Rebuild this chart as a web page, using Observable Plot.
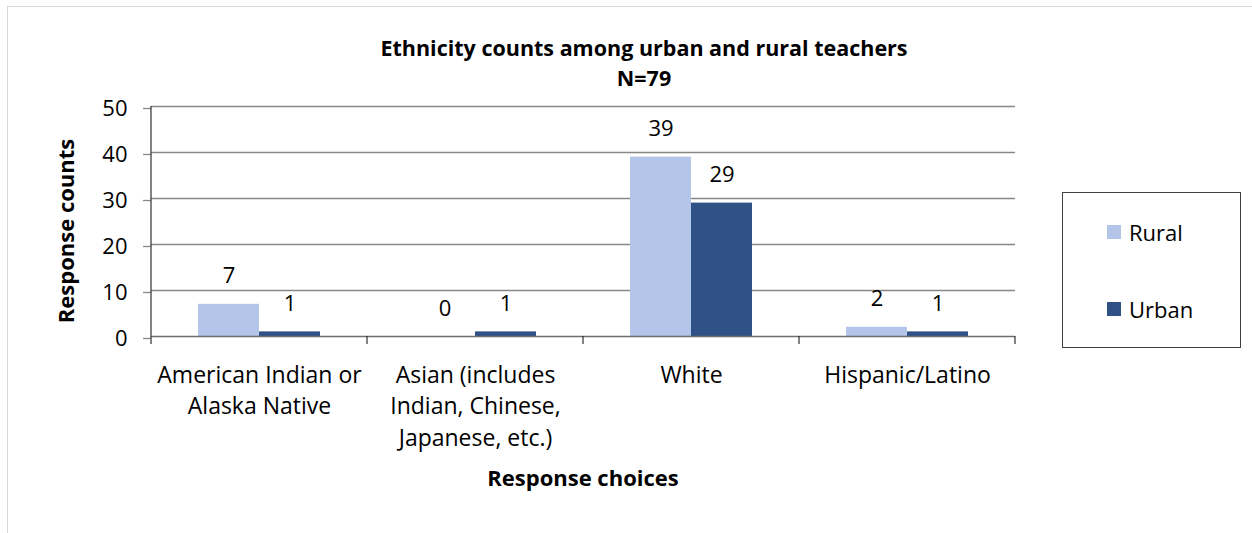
<!DOCTYPE html>
<html>
<head>
<meta charset="utf-8">
<script src="https://cdn.jsdelivr.net/npm/d3@7"></script>
<script src="https://cdn.jsdelivr.net/npm/@observablehq/plot@0.6"></script>
<style>
  html, body { margin: 0; padding: 0; background: #fff; }
  #wrap { position: relative; width: 1252px; height: 533px; overflow: hidden; font-family: "Open Sans", sans-serif; color: #000; }
  #frame { position: absolute; left: 7px; top: 6px; width: 1300px; height: 600px; border: 1px solid #d9d9d9; box-sizing: border-box; }
  #chart { position: absolute; left: 0; top: 0; }
  .title { position: absolute; left: 0; width: 1288px; text-align: center; font-weight: bold; font-size: 21.5px; line-height: 30px; white-space: nowrap; }
  #ytitle { position: absolute; left: 65px; top: 231px; transform: translate(-50%, -50%) rotate(-90deg); font-weight: bold; font-size: 22px; white-space: nowrap; }
  #xtitle { position: absolute; left: 583px; top: 477px; transform: translate(-50%, -50%); font-weight: bold; font-size: 22px; white-space: nowrap; }
  #legend { position: absolute; left: 1062px; top: 192px; width: 179px; height: 156px; border: 1px solid #404040; box-sizing: border-box; }
  .item { position: absolute; left: 44px; display: flex; align-items: center; font-size: 22px; line-height: 28px; }
  .sw { width: 14px; height: 14px; margin-right: 8px; }
</style>
</head>
<body>
<div id="wrap">
  <div id="frame"></div>
  <div id="chart"></div>
  <div class="title" style="top:33px">Ethnicity counts among urban and rural teachers</div>
  <div class="title" style="top:63px">N=79</div>
  <div id="ytitle">Response counts</div>
  <div id="xtitle">Response choices</div>
  <div id="legend"></div>
</div>
<script>
const categories = [
  "American Indian or\nAlaska Native",
  "Asian (includes\nIndian, Chinese,\nJapanese, etc.)",
  "White",
  "Hispanic/Latino"
];
const series = ["Rural", "Urban"];
const seriesColors = ["#b3c5e8", "#2f5185"];
const rural = [7, 0, 39, 2];
const urban = [1, 1, 29, 1];
const yTicks = [0, 10, 20, 30, 40, 50];

const rows = [];
categories.forEach((c, i) => {
  rows.push({category: c, series: "Rural", value: rural[i]});
  rows.push({category: c, series: "Urban", value: urban[i]});
});

const plot = Plot.plot({
  width: 1252,
  height: 533,
  marginLeft: 151,
  marginRight: 237,
  marginTop: 106,
  marginBottom: 197,
  style: {fontFamily: "'Open Sans', sans-serif", fontSize: "22px", color: "#000", background: "transparent", overflow: "visible"},
  fx: {domain: categories, padding: 0, label: null},
  x: {domain: series, paddingInner: 0, paddingOuter: 0.77, align: 0.5, axis: null},
  y: {domain: [0, 50], label: null},
  color: {domain: series, range: seriesColors},
  marks: [
    Plot.ruleY(yTicks.filter(d => d > 0), {stroke: "#878787", strokeWidth: 1.3}),
    Plot.axisY(yTicks, {tickSize: 8, tickPadding: 16, stroke: "#878787", strokeWidth: 1.3, strokeOpacity: 1, fontSize: 22, fill: "#000", dy: 2, label: null}),
    Plot.barY(rows, {fx: "category", x: "series", y: "value", fill: "series"}),
    Plot.text(rows, {fx: "category", x: "series", y: "value", text: d => String(d.value), dy: -28, fontSize: 22, fill: "#000"}),
    Plot.ruleY([0], {stroke: "#6e6e6e", strokeWidth: 1.3}),
    Plot.axisFx({anchor: "bottom", tickSize: 0, tickPadding: 24, lineHeight: 1.37, fontSize: 23, fill: "#000", label: null})
  ]
});
document.getElementById("chart").appendChild(plot);

// axis line and category separators, placed from the library's own scales
const fxs = plot.scale("fx");
const ys = plot.scale("y");
const y0 = ys.apply(0), yTop = ys.apply(50);
const svg = d3.select(plot);
const edges = categories.map(c => fxs.apply(c));
edges.push(fxs.apply(categories[categories.length - 1]) + fxs.bandwidth);
const g = svg.append("g");
g.append("line").attr("x1", edges[0]).attr("x2", edges[0]).attr("y1", yTop).attr("y2", y0 + 8)
  .attr("stroke", "#303030").attr("stroke-width", 1.2);
edges.slice(1).forEach(x => {
  g.append("line").attr("x1", x).attr("x2", x).attr("y1", y0).attr("y2", y0 + 8)
    .attr("stroke", "#303030").attr("stroke-width", 1.2);
});

// legend
const legend = d3.select("#legend");
series.forEach((s, i) => {
  const it = legend.append("div").attr("class", "item").style("top", (i === 0 ? 25 : 102) + "px");
  it.append("div").attr("class", "sw").style("background", seriesColors[i]);
  it.append("span").text(s);
});
</script>
</body>
</html>
